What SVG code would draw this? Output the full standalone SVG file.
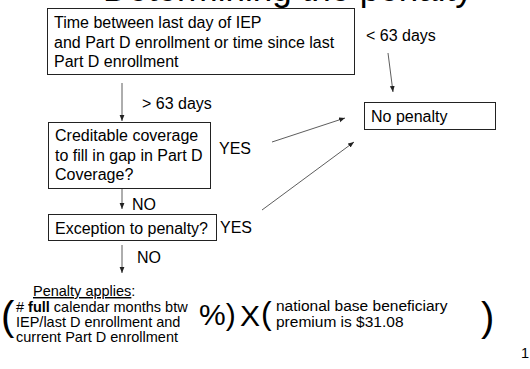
<svg xmlns="http://www.w3.org/2000/svg" width="530" height="369" viewBox="0 0 530 369">
<defs>
<style>
text{font-family:"Liberation Sans",Arial,sans-serif;fill:#000;}
.t16{font-size:16px;}
.t14{font-size:14.5px;}
.t15{font-size:15.5px;}
.box{fill:#fff;stroke:#222;stroke-width:1;}
.con{stroke:#333;stroke-width:0.8;fill:none;marker-end:url(#ah);}
</style>
<marker id="ah" viewBox="0 0 10 10" refX="10" refY="5" markerWidth="6" markerHeight="6" orient="auto" markerUnits="userSpaceOnUse">
<path d="M0,1 L10,5 L0,9 Z" fill="#222"/>
</marker>
</defs>
<rect width="530" height="369" fill="#fff"/>
<text id="title" x="103" y="0.5" style="font-size:35px">Determining the penalty</text>
<g id="connectors">
<line class="con" x1="122" y1="83" x2="122" y2="121"/>
<line class="con" x1="388" y1="53" x2="393" y2="92"/>
<line class="con" x1="272" y1="142" x2="345" y2="118"/>
<line class="con" x1="262" y1="210" x2="354" y2="142"/>
<line class="con" x1="122" y1="188" x2="122" y2="209"/>
<line class="con" x1="122" y1="245" x2="122" y2="273"/>
<text class="t16" x="366" y="41">&lt; 63 days</text>
<text class="t16" x="142" y="109">&gt; 63 days</text>
<text class="t16" x="219" y="154">YES</text>
<text class="t16" x="132" y="210">NO</text>
<text class="t16" x="220" y="233">YES</text>
<text class="t16" x="137" y="263">NO</text>
</g>
<g id="n1">
<rect class="box" x="47.5" y="8.5" width="307" height="66"/>
<text class="t16" x="54" y="28">Time between last day of IEP</text>
<text class="t16" x="54" y="48">and Part D enrollment or time since last</text>
<text class="t16" x="54" y="67">Part D enrollment</text>
</g>
<g id="n2">
<rect class="box" x="364.5" y="102.5" width="131" height="27"/>
<text class="t16" x="371" y="122">No penalty</text>
</g>
<g id="n3">
<rect class="box" x="48.5" y="122.5" width="162" height="66"/>
<text class="t16" x="55" y="141">Creditable coverage</text>
<text class="t16" x="55" y="161">to fill in gap in Part D</text>
<text class="t16" x="55" y="180">Coverage?</text>
</g>
<g id="n4">
<rect class="box" x="48.5" y="214.5" width="168" height="26"/>
<text class="t16" x="55" y="234">Exception to penalty?</text>
</g>
<g id="formula">
<text class="t14" x="33" y="296"><tspan text-decoration="underline">Penalty applies</tspan>:</text>
<text x="1" y="330" style="font-size:40px">(</text>
<text class="t14" x="16" y="312"># <tspan font-weight="bold">full</tspan> calendar months btw</text>
<text class="t14" x="16" y="327">IEP/last D enrollment and</text>
<text class="t14" x="16" y="342">current Part D enrollment</text>
<text x="199" y="325" style="font-size:30px">%)</text>
<text x="240" y="326" style="font-size:30px">X</text>
<text x="261" y="324" style="font-size:32px">(</text>
<text class="t15" x="276" y="311">national base beneficiary</text>
<text class="t15" x="276" y="327">premium is $31.08</text>
<text x="481" y="331" style="font-size:40px">)</text>
<text class="t14" x="521" y="358">1</text>
</g>
</svg>
